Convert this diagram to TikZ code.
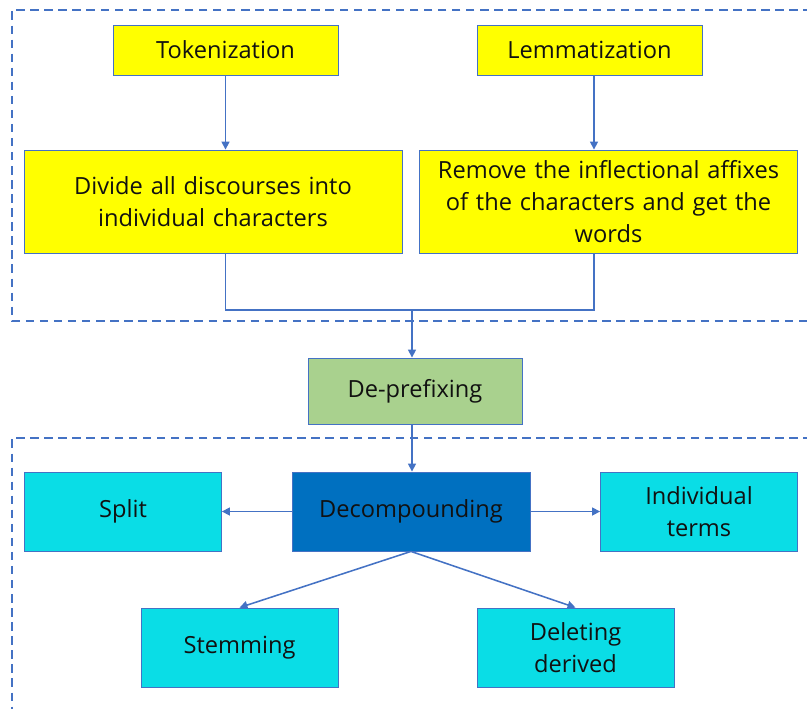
\documentclass[tikz,border=0pt]{standalone}
\usepackage{fontspec}
\setmainfont{Open Sans}
\usepackage{tikz}
\usetikzlibrary{arrows.meta,positioning,calc}

\definecolor{lineblue}{HTML}{4472C4}
\definecolor{boxyellow}{HTML}{FFFF00}
\definecolor{boxgreen}{HTML}{A9D18E}
\definecolor{boxdark}{HTML}{0070C0}
\definecolor{boxcyan}{HTML}{0ADDE6}
\definecolor{inkblack}{HTML}{111111}

\begin{document}
\begin{tikzpicture}[
    font=\fontsize{16.8}{22.5}\selectfont,
    >={Triangle[length=2mm,width=2mm]},
    flow/.style={lineblue, line width=1.1pt},
    frame/.style={lineblue, line width=1.1pt, dash pattern=on 6pt off 4pt},
    stage/.style={
        draw=lineblue,
        line width=0.6pt,
        text=inkblack,
        align=center,
        inner sep=2pt
    },
    yellowbox/.style={stage, fill=boxyellow},
    greenbox/.style={stage, fill=boxgreen},
    darkbox/.style={stage, fill=boxdark},
    cyanbox/.style={stage, fill=boxcyan}
]

\useasboundingbox (0,0) rectangle (20.175,-17.725);

% Frames
\draw[frame] (21.0,-0.25) -- (0.30,-0.25) -- (0.30,-8.025) -- (21.0,-8.025);
\draw[frame] (21.0,-10.95) -- (0.30,-10.95) -- (0.30,-18.5);

% =====================================================
% PREPROCESSING
% =====================================================

\node[yellowbox, minimum width=5.625cm, minimum height=1.25cm] (tok) at (5.6375,-1.25) {Tokenization};
\node[yellowbox, minimum width=5.625cm, minimum height=1.25cm] (lem) at (14.7375,-1.25) {Lemmatization};

\node[yellowbox, minimum width=9.45cm, minimum height=2.575cm, text width=9.2cm] (div) at (5.325,-5.0375)
    {Divide all discourses into\\individual characters};
\node[yellowbox, minimum width=9.45cm, minimum height=2.575cm, text width=9.2cm] (rem) at (15.2125,-5.0375)
    {Remove the inflectional affixes\\of the characters and get the\\words};

\coordinate (lemdrop) at (14.85,-1.875);
\draw[flow, ->] (tok) -- (div.north -| tok);
\draw[flow, ->] (lemdrop) -- (rem.north -| lemdrop);

% =====================================================
% DE-PREFIXING
% =====================================================

\node[greenbox, minimum width=5.35cm, minimum height=1.65cm] (dep) at (10.375,-9.775) {De-prefixing};

\coordinate (join) at (10.3,-7.75);
\draw[flow] (div.south -| tok) |- (join) -| (rem.south -| lemdrop);
\draw[flow, ->] (join) -- (dep.north -| join);

% =====================================================
% DECOMPOUNDING
% =====================================================

\node[darkbox, minimum width=5.95cm, minimum height=1.975cm] (dec) at (10.275,-12.7875) {Decompounding};
\node[cyanbox, minimum width=4.925cm, minimum height=1.975cm] (spl) at (3.075,-12.7875) {Split};
\node[cyanbox, minimum width=4.925cm, minimum height=1.975cm] (ind) at (17.475,-12.7875) {Individual\\terms};
\node[cyanbox, minimum width=4.925cm, minimum height=1.975cm] (stm) at (5.9875,-16.1875) {Stemming};
\node[cyanbox, minimum width=4.925cm, minimum height=1.975cm] (del) at (14.3875,-16.1875) {Deleting\\derived};

\draw[flow, ->] (dep.south -| join) -- (dec.north -| join);
\draw[flow, ->] (dec) -- (spl);
\draw[flow, ->] (dec) -- (ind);
\draw[flow, ->] (dec.south) -- (stm.north);
\draw[flow, ->] (dec.south) -- (del.north);

\end{tikzpicture}
\end{document}
